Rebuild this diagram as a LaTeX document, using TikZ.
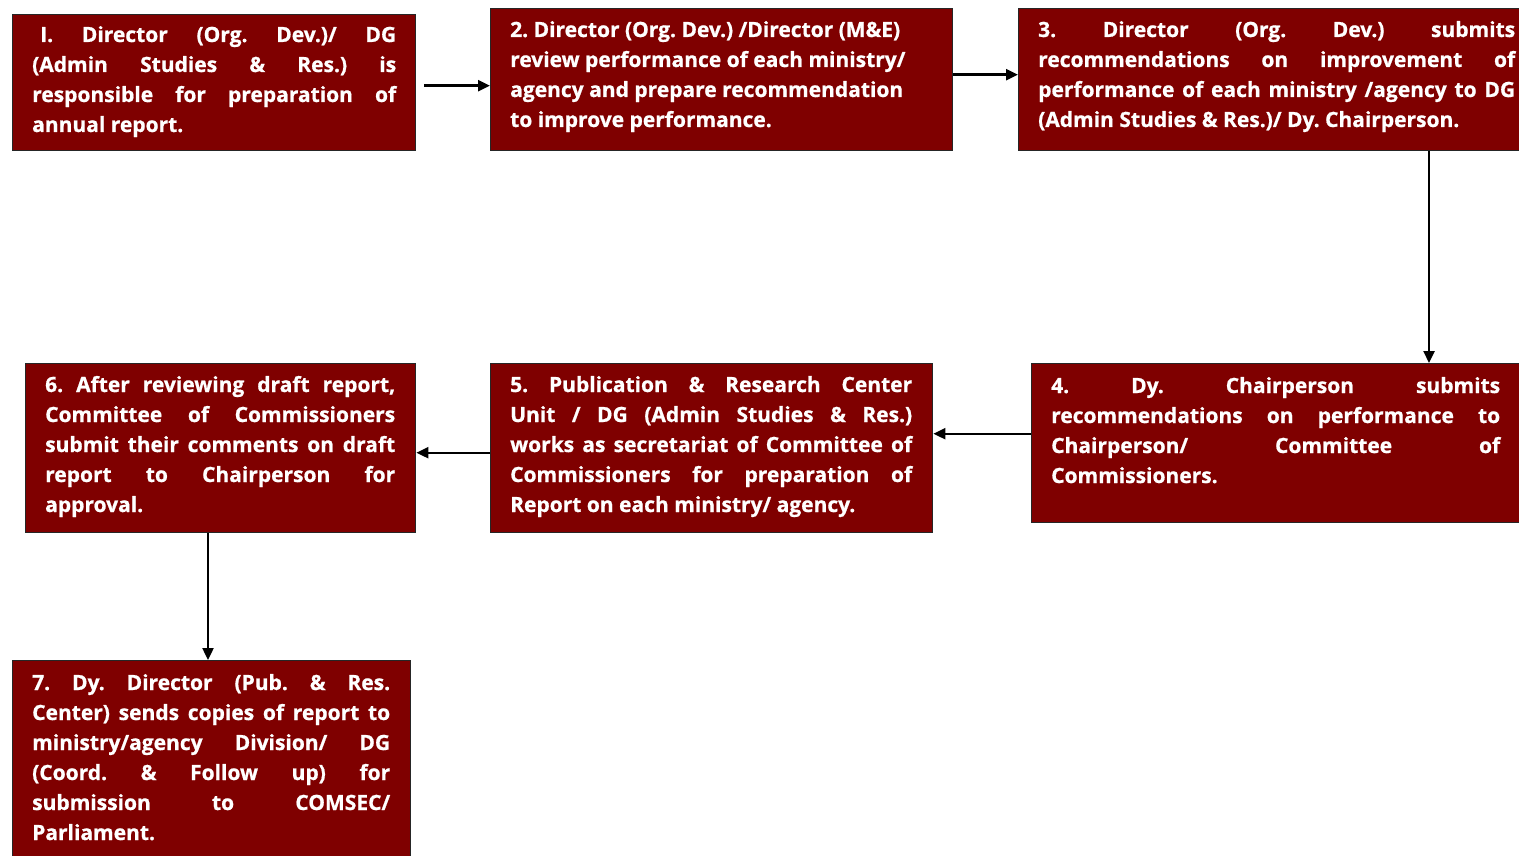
\documentclass[tikz,border=0pt]{standalone}
\usepackage{fontspec}
\setmainfont{Open Sans}[BoldFeatures={FakeBold=0.8}]
\usetikzlibrary{arrows.meta}
\definecolor{maroon}{HTML}{7F0000}
\newcommand{\jline}[1]{\makebox[\linewidth][s]{#1}\par}
\newcommand{\lline}[1]{\makebox[\linewidth][l]{#1}\par}
\tikzset{
  box/.style={draw=black!85, line width=1.4pt, fill=maroon, anchor=north west, inner sep=0pt},
  txt/.style={anchor=base west, inner sep=0pt, text=white, font=\fontsize{21}{30}\selectfont\bfseries\frenchspacing},
  arr/.style={line width=2.4pt, -{Triangle[length=12pt,width=11pt]}}
}
\begin{document}
\begin{tikzpicture}[x=1pt,y=-1pt]
\useasboundingbox (0,0) rectangle (1519,856);
\clip (0,0) rectangle (1519,856);
% boxes
\node[box, minimum width=403pt, minimum height=136pt] (b1) at (12,14) {};
\node[box, minimum width=462pt, minimum height=142pt] (b2) at (490,8) {};
\node[box, minimum width=520pt, minimum height=142pt] (b3) at (1018,8) {};
\node[box, minimum width=500pt, minimum height=159pt] (b4) at (1031,363) {};
\node[box, minimum width=442pt, minimum height=169pt] (b5) at (490,363) {};
\node[box, minimum width=390pt, minimum height=169pt] (b6) at (25,363) {};
\node[box, minimum width=398pt, minimum height=220pt] (b7) at (12,660) {};
% texts
\node[txt] (t1) at (32,42) {\parbox[t]{364pt}{%
\jline{\hspace{8pt}I. Director (Org. Dev.)/ DG}
\jline{(Admin Studies \& Res.) is}
\jline{responsible for preparation of}
\lline{annual report.}}};
\node[txt] (t2) at (510,37) {\parbox[t]{425pt}{%
\lline{2. Director (Org. Dev.) /Director (M\&E)}
\lline{review performance of each ministry/}
\lline{agency and prepare recommendation}
\lline{to improve performance.}}};
\node[txt] (t3) at (1038,37) {\parbox[t]{477pt}{%
\jline{3. Director (Org. Dev.) submits}
\jline{recommendations on improvement of}
\jline{performance of each ministry /agency to DG}
\lline{(Admin Studies \& Res.)/ Dy. Chairperson.}}};
\node[txt] (t4) at (1051,393) {\parbox[t]{449pt}{%
\jline{4. Dy. Chairperson submits}
\jline{recommendations on performance to}
\jline{Chairperson/ Committee of}
\lline{Commissioners.}}};
\node[txt] (t5) at (510,392) {\parbox[t]{402pt}{%
\jline{5. Publication \& Research Center}
\jline{Unit / DG (Admin Studies \& Res.)}
\jline{works as secretariat of Committee of}
\jline{Commissioners for preparation of}
\lline{Report on each ministry/ agency.}}};
\node[txt] (t6) at (45,392) {\parbox[t]{350pt}{%
\jline{6. After reviewing draft report,}
\jline{Committee of Commissioners}
\jline{submit their comments on draft}
\jline{report to Chairperson for}
\lline{approval.}}};
\node[txt] (t7) at (32,690) {\parbox[t]{358pt}{%
\jline{7. Dy. Director (Pub. \& Res.}
\jline{Center) sends copies of report to}
\jline{ministry/agency Division/ DG}
\jline{(Coord. \& Follow up) for}
\jline{submission to COMSEC/}
\lline{Parliament.}}};
% connectors
\coordinate (x3) at (1429,0);
\coordinate (x6) at (208,0);
\draw[arr] ([shift={(8pt,-3pt)}]b1.east) -- ([yshift=-3pt]b1.east -| b2.west);
\draw[arr] ([yshift=5pt]b2.east) -- ([yshift=5pt]b2.east -| b3.west);
\draw[arr] (b3.south -| x3) -- (b4.north -| x3);
\draw[arr] ([yshift=9.5pt]b4.west) -- ([yshift=9.5pt]b4.west -| b5.east);
\draw[arr] ([yshift=-4.5pt]b5.west) -- ([yshift=-4.5pt]b5.west -| b6.east);
\draw[arr] (b6.south -| x6) -- (b7.north -| x6);
\end{tikzpicture}
\end{document}
